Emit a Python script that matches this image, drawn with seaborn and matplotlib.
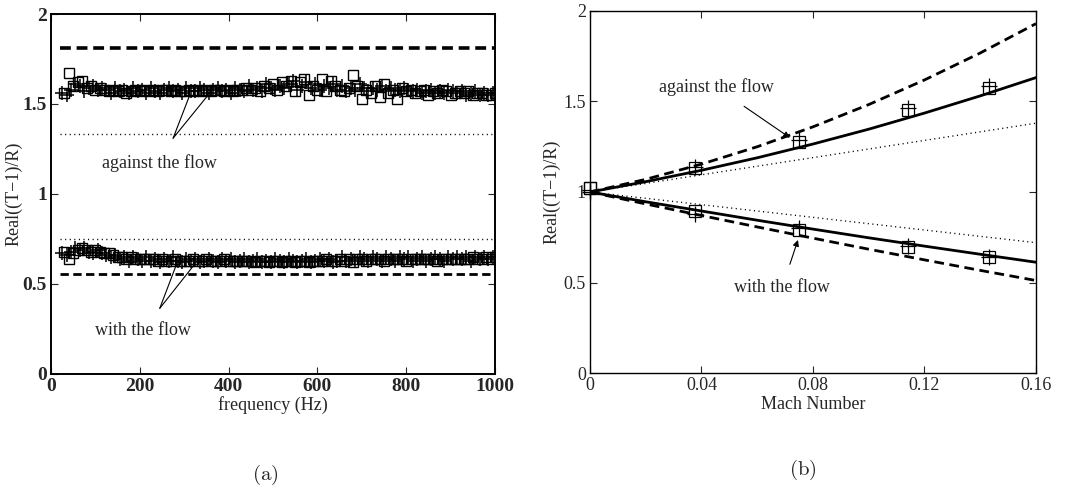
import numpy as np
import matplotlib
matplotlib.use('Agg')
import matplotlib.pyplot as plt
import seaborn as sns

sns.set_style('ticks')
plt.rcParams['font.family'] = ['Liberation Serif', 'DejaVu Serif']
plt.rcParams['mathtext.fontset'] = 'cm'

# ---- panel (a): measured Real((T-1)/R) against frequency ----
freq_sq = np.arange(30, 1001, 10)
freq_plus = np.arange(25, 1000, 10)

against_sq = [
    1.56, 1.67, 1.60, 1.62, 1.63, 1.59, 1.60, 1.58, 1.59, 1.58,
    1.57, 1.58, 1.57, 1.58, 1.56, 1.57, 1.58, 1.57, 1.58, 1.57,
    1.58, 1.57, 1.58, 1.58, 1.57, 1.58, 1.57, 1.57, 1.58, 1.57,
    1.58, 1.57, 1.58, 1.57, 1.58, 1.58, 1.57, 1.58, 1.57, 1.58,
    1.58, 1.59, 1.58, 1.59, 1.57, 1.60, 1.59, 1.61, 1.58, 1.62,
    1.60, 1.63, 1.57, 1.62, 1.64, 1.55, 1.60, 1.58, 1.64, 1.57,
    1.63, 1.60, 1.58, 1.57, 1.59, 1.66, 1.60, 1.53, 1.58, 1.56,
    1.60, 1.54, 1.61, 1.56, 1.58, 1.53, 1.59, 1.57, 1.58, 1.56,
    1.57, 1.58, 1.55, 1.57, 1.56, 1.58, 1.57, 1.55, 1.56, 1.57,
    1.56, 1.57, 1.55, 1.56, 1.56, 1.55, 1.55, 1.56]

against_plus = [
    1.56, 1.55, 1.58, 1.61, 1.60, 1.57, 1.59, 1.60, 1.58, 1.59,
    1.58, 1.56, 1.59, 1.57, 1.58, 1.56, 1.59, 1.57, 1.58, 1.56,
    1.59, 1.57, 1.56, 1.58, 1.59, 1.57, 1.58, 1.56, 1.59, 1.57,
    1.57, 1.59, 1.58, 1.56, 1.58, 1.59, 1.57, 1.58, 1.56, 1.59,
    1.58, 1.57, 1.60, 1.58, 1.59, 1.57, 1.61, 1.59, 1.58, 1.60,
    1.59, 1.61, 1.63, 1.58, 1.60, 1.62, 1.59, 1.61, 1.58, 1.60,
    1.59, 1.61, 1.58, 1.60, 1.57, 1.59, 1.58, 1.61, 1.59, 1.57,
    1.59, 1.58, 1.60, 1.57, 1.59, 1.58, 1.57, 1.59, 1.58, 1.57,
    1.58, 1.56, 1.57, 1.58, 1.56, 1.57, 1.56, 1.58, 1.57, 1.56,
    1.57, 1.55, 1.56, 1.57, 1.55, 1.56, 1.55, 1.56]

with_sq = [
    0.68, 0.64, 0.67, 0.69, 0.70, 0.69, 0.68, 0.69, 0.68, 0.67,
    0.67, 0.66, 0.65, 0.65, 0.64, 0.65, 0.64, 0.64, 0.64, 0.64,
    0.64, 0.63, 0.64, 0.63, 0.63, 0.64, 0.63, 0.63, 0.63, 0.64,
    0.63, 0.63, 0.64, 0.63, 0.63, 0.63, 0.64, 0.63, 0.63, 0.63,
    0.63, 0.63, 0.63, 0.62, 0.63, 0.63, 0.62, 0.63, 0.63, 0.62,
    0.63, 0.63, 0.62, 0.63, 0.63, 0.62, 0.63, 0.63, 0.63, 0.64,
    0.63, 0.63, 0.64, 0.63, 0.64, 0.62, 0.64, 0.64, 0.63, 0.64,
    0.64, 0.64, 0.63, 0.64, 0.64, 0.64, 0.64, 0.63, 0.64, 0.64,
    0.64, 0.64, 0.64, 0.64, 0.63, 0.64, 0.64, 0.64, 0.64, 0.64,
    0.64, 0.64, 0.65, 0.64, 0.64, 0.65, 0.64, 0.65]

with_plus = [
    0.67, 0.66, 0.68, 0.70, 0.69, 0.70, 0.68, 0.67, 0.69, 0.67,
    0.66, 0.65, 0.66, 0.64, 0.65, 0.63, 0.65, 0.64, 0.63, 0.65,
    0.63, 0.64, 0.62, 0.64, 0.63, 0.65, 0.63, 0.62, 0.64, 0.63,
    0.64, 0.62, 0.63, 0.64, 0.63, 0.62, 0.64, 0.63, 0.64, 0.62,
    0.63, 0.64, 0.62, 0.63, 0.64, 0.62, 0.63, 0.62, 0.64, 0.63,
    0.62, 0.64, 0.63, 0.62, 0.63, 0.64, 0.62, 0.63, 0.64, 0.63,
    0.64, 0.62, 0.63, 0.65, 0.63, 0.64, 0.63, 0.65, 0.64, 0.63,
    0.65, 0.64, 0.63, 0.65, 0.64, 0.63, 0.65, 0.64, 0.65, 0.63,
    0.64, 0.65, 0.63, 0.64, 0.65, 0.64, 0.63, 0.65, 0.64, 0.65,
    0.64, 0.65, 0.63, 0.65, 0.64, 0.65, 0.64, 0.65]

# theory levels (horizontal lines), frequency span
line_span = [20, 1000]
against_dashed_a = 1.81
against_dotted_a = 1.335
with_dotted_a = 0.748
with_dashed_a = 0.553

# ---- panel (b): Real((T-1)/R) against Mach number ----
mach = [0, 0.02, 0.04, 0.06, 0.08, 0.10, 0.12, 0.14, 0.16]
against_dashed = [1.00, 1.070, 1.154, 1.250, 1.360, 1.483, 1.619, 1.768, 1.930]
against_solid = [1.00, 1.057, 1.120, 1.189, 1.265, 1.347, 1.436, 1.531, 1.632]
with_solid = [1.00, 0.946, 0.895, 0.844, 0.795, 0.747, 0.701, 0.656, 0.612]
with_dashed = [1.00, 0.934, 0.870, 0.807, 0.745, 0.684, 0.625, 0.567, 0.511]
mach_dotted = [0, 0.16]
against_dotted = [1.00, 1.38]
with_dotted = [1.00, 0.72]

mach_meas = [0, 0.0378, 0.0749, 0.114, 0.1433]
against_meas_sq = [1.02, 1.13, 1.278, 1.452, 1.577]
against_meas_plus = [1.01, 1.14, 1.285, 1.465, 1.585]
with_meas_sq = [1.02, 0.895, 0.79, 0.698, 0.643]
with_meas_plus = [1.00, 0.88, 0.80, 0.70, 0.64]

fig = plt.figure(figsize=(10.69, 4.93), dpi=100)
ax1 = fig.add_axes([0.0477, 0.2414, 0.4154, 0.7302])
ax2 = fig.add_axes([0.5519, 0.2434, 0.4172, 0.7343])

FS = 13
sq_kw = dict(marker='s', linestyle='', mfc='none', mec='k', ms=6.5, mew=1.0,
             color='k', sort=False, estimator=None)
pl_kw = dict(marker='+', linestyle='', mec='k', ms=10, mew=1.1,
             color='k', sort=False, estimator=None)

# panel (a)
sns.lineplot(x=freq_plus, y=against_plus, ax=ax1, **pl_kw)
sns.lineplot(x=freq_sq, y=against_sq, ax=ax1, **sq_kw)
sns.lineplot(x=freq_plus, y=with_plus, ax=ax1, **pl_kw)
sns.lineplot(x=freq_sq, y=with_sq, ax=ax1, **sq_kw)
for lvl, ls, lw in [(against_dashed_a, (0, (3.0, 1.6)), 2.6),
                    (with_dashed_a, (0, (3.0, 1.6)), 2.0),
                    (against_dotted_a, (0, (0.8, 2.5)), 1.0),
                    (with_dotted_a, (0, (0.8, 2.5)), 1.0)]:
    sns.lineplot(x=line_span, y=[lvl, lvl], ax=ax1, color='k',
                 linestyle=ls, linewidth=lw)

ax1.text(245, 1.17, 'against the flow', fontsize=FS, ha='center', va='center')
for end in [(311, 1.54), (354, 1.55)]:
    ax1.annotate('', xy=end, xytext=(275, 1.31),
                 arrowprops=dict(arrowstyle='-', color='k', lw=0.8,
                                 shrinkA=0, shrinkB=0))
ax1.text(207, 0.24, 'with the flow', fontsize=FS, ha='center', va='center')
for end in [(282, 0.605), (322, 0.605)]:
    ax1.annotate('', xy=end, xytext=(245, 0.365),
                 arrowprops=dict(arrowstyle='-', color='k', lw=0.8,
                                 shrinkA=0, shrinkB=0))

ax1.set_xlim(0, 1000)
ax1.set_ylim(0, 2)
ax1.set_xticks([0, 200, 400, 600, 800, 1000])
ax1.set_xticklabels(['0', '200', '400', '600', '800', '1000'],
                    fontweight='bold', fontsize=14)
ax1.set_yticks([0, 0.5, 1, 1.5, 2])
ax1.set_yticklabels(['0', '0.5', '1', '1.5', '2'], fontweight='bold', fontsize=14)
ax1.set_xlabel('frequency (Hz)', fontsize=FS, labelpad=1)
ax1.set_ylabel('Real((T\u22121)/R)', fontsize=FS, labelpad=0)

# panel (b)
sns.lineplot(x=mach, y=against_dashed, ax=ax2, color='k', linewidth=2.0,
             linestyle=(0, (3.5, 2.0)))
sns.lineplot(x=mach, y=against_solid, ax=ax2, color='k', linewidth=2.0)
sns.lineplot(x=mach, y=with_solid, ax=ax2, color='k', linewidth=2.0)
sns.lineplot(x=mach, y=with_dashed, ax=ax2, color='k', linewidth=2.0,
             linestyle=(0, (3.5, 2.0)))
sns.lineplot(x=mach_dotted, y=against_dotted, ax=ax2, color='k', linewidth=1.0,
             linestyle=(0, (0.8, 2.5)))
sns.lineplot(x=mach_dotted, y=with_dotted, ax=ax2, color='k', linewidth=1.0,
             linestyle=(0, (0.8, 2.5)))
for ys, kw in [(against_meas_plus, pl_kw), (against_meas_sq, sq_kw),
               (with_meas_plus, pl_kw), (with_meas_sq, sq_kw)]:
    k = dict(kw)
    k['ms'] = 8.5 if kw is sq_kw else 11
    k['mew'] = 0.9
    sns.lineplot(x=mach_meas, y=ys, ax=ax2, clip_on=False, **k)

ax2.annotate('against the flow', xy=(0.0717, 1.30), xytext=(0.0452, 1.58),
             fontsize=FS, ha='center', va='center',
             arrowprops=dict(arrowstyle='-|>', color='k', lw=0.8,
                             mutation_scale=9, shrinkA=9, shrinkB=0))
ax2.annotate('with the flow', xy=(0.0746, 0.735), xytext=(0.0689, 0.47),
             fontsize=FS, ha='center', va='center',
             arrowprops=dict(arrowstyle='-|>', color='k', lw=0.8,
                             mutation_scale=9, shrinkA=9, shrinkB=0))

ax2.set_xlim(0, 0.16)
ax2.set_ylim(0, 2)
ax2.set_xticks([0, 0.04, 0.08, 0.12, 0.16])
ax2.set_xticklabels(['0', '0.04', '0.08', '0.12', '0.16'], fontsize=FS)
ax2.set_yticks([0, 0.5, 1, 1.5, 2])
ax2.set_yticklabels(['0', '0.5', '1', '1.5', '2'], fontsize=FS)
ax2.set_xlabel('Mach Number', fontsize=FS, labelpad=1)
ax2.set_ylabel('Real((T\u22121)/R)', fontsize=FS, labelpad=2)

for ax, lw in [(ax1, 1.4), (ax2, 1.0)]:
    ax.tick_params(direction='in', top=True, right=True, length=5,
                   width=0.8, pad=3)
    for s in ax.spines.values():
        s.set_linewidth(lw)
        s.set_color('k')

fig.text(0.248, 0.036, r'$(\mathrm{a})$', fontsize=15, ha='center', va='center')
fig.text(0.751, 0.046, r'$(\mathrm{b})$', fontsize=15, ha='center', va='center')

fig.savefig('out.png', dpi=100)
